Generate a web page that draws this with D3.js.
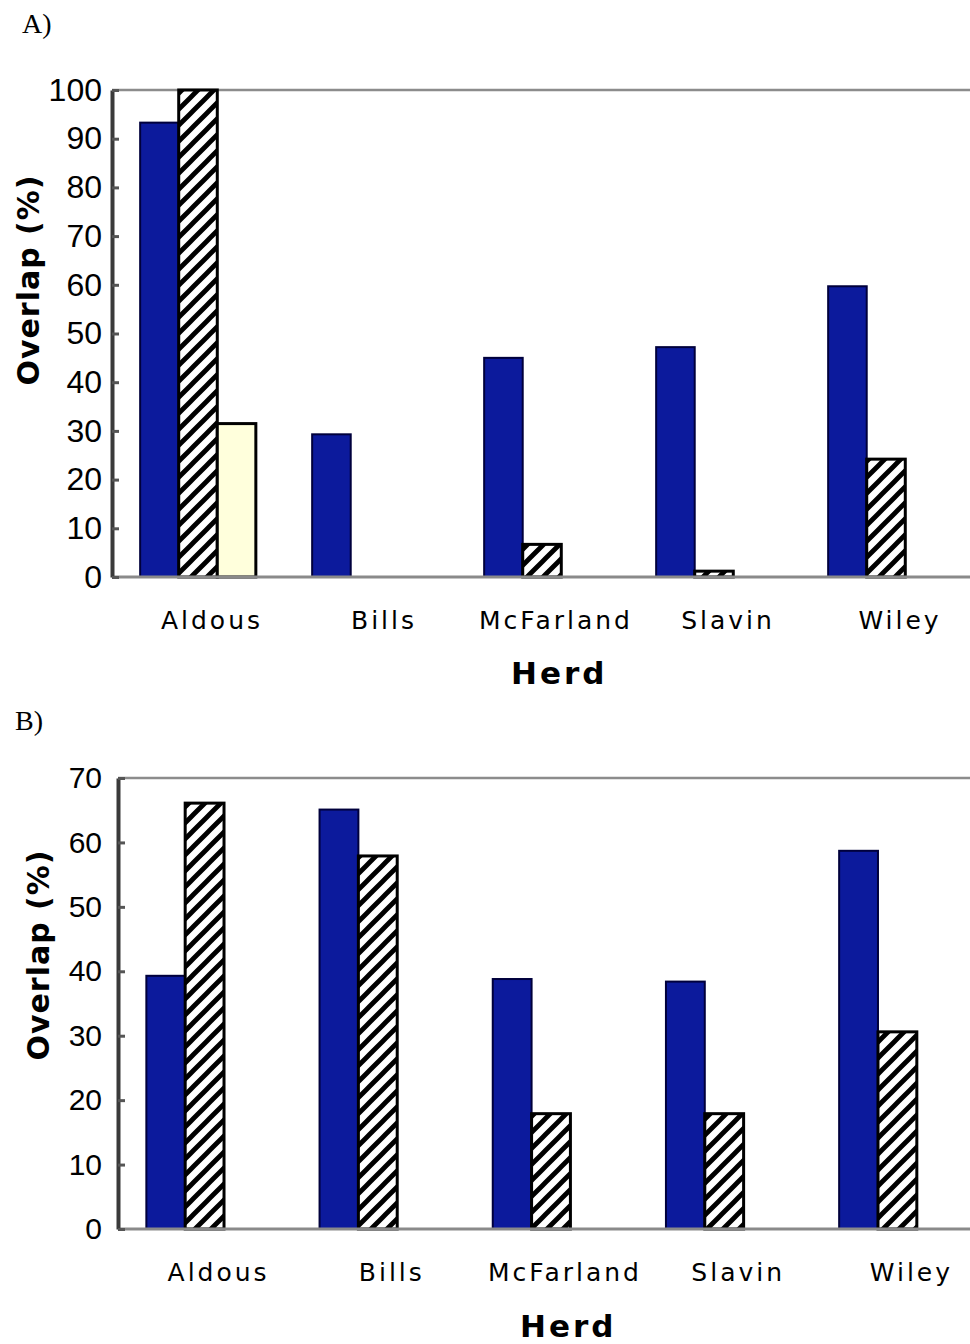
<!DOCTYPE html>
<html><head><meta charset="utf-8">
<script src="https://cdn.jsdelivr.net/npm/d3@7"></script>
<style>body{margin:0;background:#fff}svg{display:block}</style>
</head><body>
<svg id="c" width="970" height="1344"></svg>
<script>
const herds = ["Aldous", "Bills", "McFarland", "Slavin", "Wiley"];
const seriesNames = ["solid", "hatched", "light"];
// Panel A values (%)
const aSolid   = [93.3, 29.3, 45.0, 47.2, 59.7];
const aHatched = [100, 0, 6.7, 1.2, 24.2];
const aLight   = [31.5, 0, 0, 0, 0];
const aTicks   = [0, 10, 20, 30, 40, 50, 60, 70, 80, 90, 100];
// Panel B values (%)
const bSolid   = [39.3, 65.1, 38.8, 38.4, 58.7];
const bHatched = [66.1, 57.9, 17.9, 17.9, 30.6];
const bTicks   = [0, 10, 20, 30, 40, 50, 60, 70];

const svg = d3.select("#c");
const defs = svg.append("defs");
const P = 16;
const pat = defs.append("pattern").attr("id","hatch").attr("patternUnits","userSpaceOnUse")
  .attr("width",P).attr("height",P);
pat.append("rect").attr("width",P).attr("height",P).attr("fill","#fff");
pat.append("path").attr("d",`M-4,4 L4,-4 M0,${P} L${P},0 M${P-4},${P+4} L${P+4},${P-4}`)
  .attr("stroke","#000").attr("stroke-width",4.8);

const fills = {solid:"#0c1a9c", hatched:"url(#hatch)", light:"#ffffdc"};
const strokes = {solid:"#00003c", hatched:"#000", light:"#000"};

function panel(cfg){
  const g = svg.append("g");
  const x = d3.scaleBand().domain(herds).range([cfg.left, cfg.left + 5*cfg.band]).padding(0);
  const xs = d3.scaleBand().domain(seriesNames).range([0, cfg.band]).paddingInner(0).paddingOuter(0.73);
  const y = d3.scaleLinear().domain([0, cfg.max]).range([cfg.bottom, cfg.top]);

  g.append("line").attr("x1",cfg.left).attr("x2",970).attr("y1",y(cfg.max)).attr("y2",y(cfg.max))
    .attr("stroke","#8c8c8c").attr("stroke-width",2.5);

  cfg.series.forEach(s=>{
    g.append("g").selectAll("rect").data(s.values.map((v,i)=>({v,h:herds[i]})).filter(d=>d.v>0))
      .join("rect")
      .attr("x",d=>x(d.h)+xs(s.name))
      .attr("width",xs.bandwidth())
      .attr("y",d=>y(d.v))
      .attr("height",d=>y(0)-y(d.v))
      .attr("fill",fills[s.name]).attr("stroke",strokes[s.name])
      .attr("stroke-width",s.name==="solid"?2:3);
  });

  g.append("line").attr("x1",cfg.left).attr("x2",970).attr("y1",y(0)).attr("y2",y(0))
    .attr("stroke","#8a8a8a").attr("stroke-width",3);

  const ya = g.append("g").attr("transform",`translate(${cfg.left},0)`)
    .call(d3.axisLeft(y).tickValues(cfg.ticks).tickSizeInner(-7).tickSizeOuter(0).tickPadding(cfg.tickPad));
  ya.select(".domain").attr("stroke","#3a3a3a").attr("stroke-width",4);
  ya.selectAll(".tick line").attr("stroke","#555").attr("stroke-width",3);
  ya.selectAll(".tick text").attr("font-family","Liberation Sans, Arial, sans-serif")
    .attr("font-size",cfg.tickFont).attr("fill","#000");

  const xa = g.append("g").attr("transform",`translate(0,${y(0)})`)
    .call(d3.axisBottom(x).tickSize(0).tickPadding(cfg.labPad));
  xa.select(".domain").remove();
  xa.selectAll(".tick text").attr("font-family","DejaVu Sans, sans-serif").attr("font-size",25)
    .attr("letter-spacing",3).attr("dx",14).attr("fill","#000");

  g.append("text").attr("x",cfg.left + 2.6*cfg.band).attr("y",cfg.herdY).attr("text-anchor","middle")
    .attr("font-family","DejaVu Sans, sans-serif").attr("font-weight","bold").attr("font-size",31)
    .attr("letter-spacing",3).text("Herd");
  g.append("text").attr("transform",`translate(${cfg.titleX},${cfg.titleY}) rotate(-90)`)
    .attr("text-anchor","middle").attr("dominant-baseline","central")
    .attr("font-family","DejaVu Sans, sans-serif").attr("font-weight","bold").attr("font-size",30)
    .attr("letter-spacing",1).text("Overlap (%)");
  g.append("text").attr("x",cfg.labX).attr("y",cfg.labY)
    .attr("font-family","Liberation Serif, Times New Roman, serif").attr("font-size",28).text(cfg.label);
}

panel({label:"A)", labX:22, labY:33, left:112, band:172, top:90, bottom:577, max:100, ticks:aTicks,
  tickPad:10, tickFont:32, labPad:34, herdY:684, titleX:28, titleY:280,
  series:[{name:"solid",values:aSolid},{name:"hatched",values:aHatched},{name:"light",values:aLight}]});
panel({label:"B)", labX:15, labY:730, left:118, band:173.2, top:778, bottom:1229, max:70, ticks:bTicks,
  tickPad:16, tickFont:30, labPad:34, herdY:1337, titleX:38, titleY:955,
  series:[{name:"solid",values:bSolid},{name:"hatched",values:bHatched}]});
</script>
</body></html>
